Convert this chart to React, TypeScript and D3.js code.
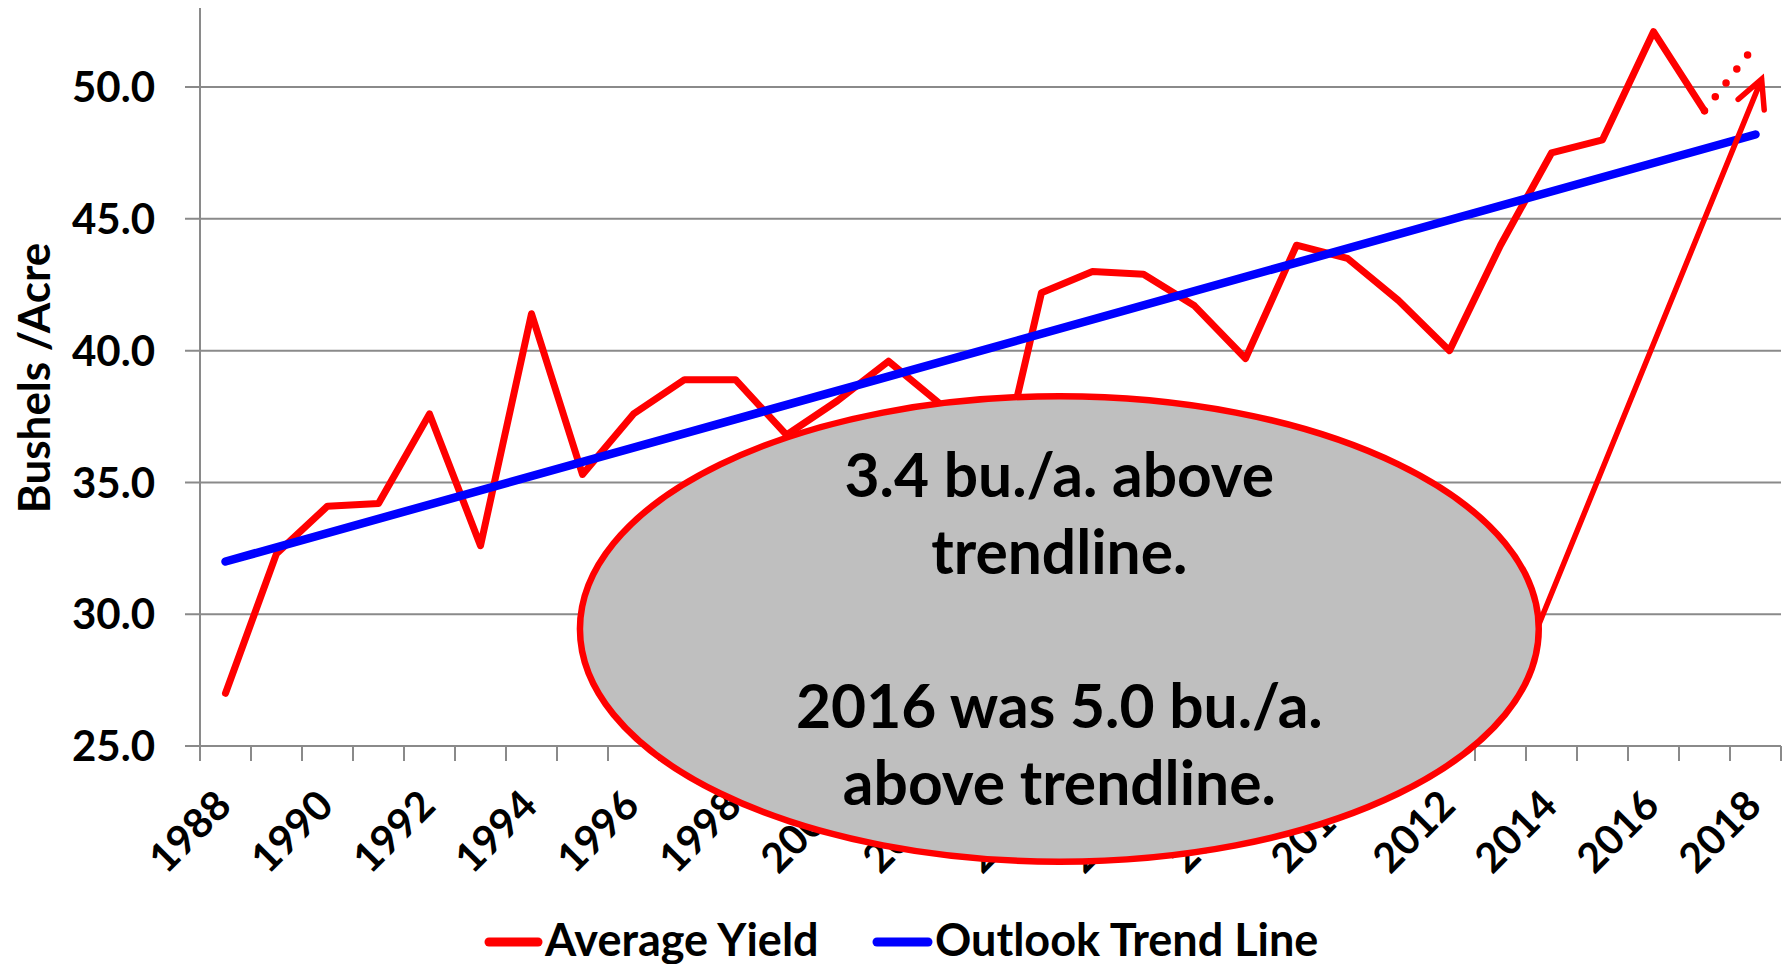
import React, { useEffect, useRef } from 'react';
import * as d3 from 'd3';

// US average soybean yield, bu/acre
const YEARS = [
  1988, 1989, 1990, 1991, 1992, 1993, 1994, 1995, 1996, 1997, 1998, 1999, 2000,
  2001, 2002, 2003, 2004, 2005, 2006, 2007, 2008, 2009, 2010, 2011, 2012, 2013,
  2014, 2015, 2016, 2017, 2018,
];
const YIELD_YEARS = YEARS.slice(0, 30);
const AVG_YIELD = [
  27.0, 32.3, 34.1, 34.2, 37.6, 32.6, 41.4, 35.3, 37.6, 38.9, 38.9, 36.8, 38.1,
  39.6, 38.0, 33.9, 42.2, 43.0, 42.9, 41.7, 39.7, 44.0, 43.5, 41.9, 40.0, 44.0,
  47.5, 48.0, 52.1, 49.1,
];
// dotted continuation toward 2018
const PROJ_YEARS = [2017, 2018];
const PROJ_VALUES = [49.1, 51.6];

const TREND_YEARS = [1988, 2018];
const TREND_VALUES = [32.0, 48.2];

const Y_TICKS = [25, 30, 35, 40, 45, 50];
const X_LABELS = [1988, 1990, 1992, 1994, 1996, 1998, 2000, 2002, 2004, 2006, 2008, 2010, 2012, 2014, 2016, 2018];

const NOTE_LINES = ['3.4 bu./a. above', 'trendline.', '', '2016 was 5.0 bu./a.', 'above trendline.'];
// callout placed in data units: centre year/value, radii in years/bushels
const NOTE_CENTER = [2004.35, 29.44];
const NOTE_RADII = [9.4, 8.83];
const ARROW_FROM = [2013.75, 29.6];
const ARROW_TO = [2018.12, 50.3];

const LEGEND = [
  { label: 'Average Yield', color: '#ff0000' },
  { label: 'Outlook Trend Line', color: '#0000ff' },
];

const FONT = "Lato, Carlito, 'Liberation Sans', sans-serif";

export default function App() {
  const ref = useRef<SVGSVGElement | null>(null);

  useEffect(() => {
    const W = 1787;
    const H = 964;
    const svg = d3.select(ref.current);
    svg.selectAll('*').remove();

    const x = d3.scaleLinear().domain([YEARS[0] - 0.5, YEARS[YEARS.length - 1] + 0.5]).range([200, 1781]);
    const y = d3.scaleLinear().domain([25, 53]).range([746, 8]);
    const grid = '#8a8a8a';

    svg.append('rect').attr('width', W).attr('height', H).attr('fill', '#fff');

    // gridlines
    svg.append('g')
      .selectAll('line')
      .data(Y_TICKS)
      .join('line')
      .attr('x1', x.range()[0] - 15)
      .attr('x2', x.range()[1])
      .attr('y1', (d) => y(d))
      .attr('y2', (d) => y(d))
      .attr('stroke', grid)
      .attr('stroke-width', 2);

    // y axis line
    svg.append('line')
      .attr('x1', x.range()[0]).attr('x2', x.range()[0])
      .attr('y1', y.range()[1]).attr('y2', y.range()[0])
      .attr('stroke', grid).attr('stroke-width', 2);

    // x tick marks on category boundaries
    const bounds = YEARS.map((d) => d - 0.5).concat([YEARS[YEARS.length - 1] + 0.5]);
    svg.append('g')
      .selectAll('line')
      .data(bounds)
      .join('line')
      .attr('x1', (d) => x(d)).attr('x2', (d) => x(d))
      .attr('y1', y(25)).attr('y2', y(25) + 15)
      .attr('stroke', grid).attr('stroke-width', 2);

    // y tick labels
    svg.append('g')
      .selectAll('text')
      .data(Y_TICKS)
      .join('text')
      .attr('x', 155)
      .attr('y', (d) => y(d))
      .attr('dy', '0.36em')
      .attr('text-anchor', 'end')
      .attr('font-family', FONT)
      .attr('font-weight', 700)
      .attr('font-size', 42)
      .text((d) => d.toFixed(1));

    // x tick labels
    svg.append('g')
      .selectAll('text')
      .data(X_LABELS)
      .join('text')
      .attr('transform', (d) => `translate(${x(d) + 8},${y(25) + 62}) rotate(-45)`)
      .attr('text-anchor', 'end')
      .attr('font-family', FONT)
      .attr('font-weight', 700)
      .attr('font-size', 41)
      .text((d) => d);

    // y axis title
    svg.append('text')
      .attr('transform', `translate(50,${378}) rotate(-90)`)
      .attr('text-anchor', 'middle')
      .attr('font-family', FONT)
      .attr('font-weight', 700)
      .attr('font-size', 44)
      .text('Bushels /Acre');

    // average yield
    const yieldLine = d3.line<number>().x((_, i) => x(YIELD_YEARS[i])).y((d) => y(d));
    svg.append('path')
      .attr('d', yieldLine(AVG_YIELD))
      .attr('fill', 'none')
      .attr('stroke', '#ff0000')
      .attr('stroke-width', 7)
      .attr('stroke-linejoin', 'round')
      .attr('stroke-linecap', 'round');

    const projLine = d3.line<number>().x((_, i) => x(PROJ_YEARS[i])).y((d) => y(d));
    svg.append('path')
      .attr('d', projLine(PROJ_VALUES))
      .attr('fill', 'none')
      .attr('stroke', '#ff0000')
      .attr('stroke-width', 7.5)
      .attr('stroke-linecap', 'round')
      .attr('stroke-dasharray', '0 17.6');

    // trend line
    const trendLine = d3.line<number>().x((_, i) => x(TREND_YEARS[i])).y((d) => y(d));
    svg.append('path')
      .attr('d', trendLine(TREND_VALUES))
      .attr('fill', 'none')
      .attr('stroke', '#0000ff')
      .attr('stroke-width', 8.5)
      .attr('stroke-linecap', 'round');

    // callout ellipse
    const cx = x(NOTE_CENTER[0]);
    const cy = y(NOTE_CENTER[1]);
    svg.append('ellipse')
      .attr('cx', cx)
      .attr('cy', cy)
      .attr('rx', x(NOTE_CENTER[0] + NOTE_RADII[0]) - cx)
      .attr('ry', y(NOTE_CENTER[1]) - y(NOTE_CENTER[1] + NOTE_RADII[1]))
      .attr('fill', '#bfbfbf')
      .attr('stroke', '#ff0000')
      .attr('stroke-width', 6.5);

    const note = svg.append('text')
      .attr('text-anchor', 'middle')
      .attr('font-family', FONT)
      .attr('font-weight', 700)
      .attr('font-size', 60.5);
    NOTE_LINES.forEach((line, i) => {
      note.append('tspan')
        .attr('x', cx)
        .attr('y', 496.5 + i * 77)
        .text(line);
    });

    // arrow from callout
    const ax0 = x(ARROW_FROM[0]);
    const ay0 = y(ARROW_FROM[1]);
    const ax1 = x(ARROW_TO[0]);
    const ay1 = y(ARROW_TO[1]);
    const ang = Math.atan2(ay0 - ay1, ax0 - ax1);
    const barb = 31;
    const spread = (27 * Math.PI) / 180;
    const b1 = [ax1 + barb * Math.cos(ang + spread), ay1 + barb * Math.sin(ang + spread)];
    const b2 = [ax1 + barb * Math.cos(ang - spread), ay1 + barb * Math.sin(ang - spread)];
    svg.append('path')
      .attr('d', `M${ax0},${ay0}L${ax1},${ay1}M${b1[0]},${b1[1]}L${ax1},${ay1}L${b2[0]},${b2[1]}`)
      .attr('fill', 'none')
      .attr('stroke', '#ff0000')
      .attr('stroke-width', 5.5)
      .attr('stroke-linecap', 'round')
      .attr('stroke-linejoin', 'miter');

    // legend (cut at the bottom edge, as in the source image)
    const legendPos = [
      { x0: 485, x1: 542, tx: 545 },
      { x0: 873, x1: 932, tx: 935 },
    ];
    LEGEND.forEach((item, i) => {
      const p = legendPos[i];
      svg.append('line')
        .attr('x1', p.x0 + 4).attr('x2', p.x1 - 4)
        .attr('y1', 942).attr('y2', 942)
        .attr('stroke', item.color)
        .attr('stroke-width', 9)
        .attr('stroke-linecap', 'round');
      svg.append('text')
        .attr('x', p.tx)
        .attr('y', 956)
        .attr('font-family', FONT)
        .attr('font-weight', 700)
        .attr('font-size', 45)
        .text(item.label);
    });
  }, []);

  return (
    <div style={{ position: 'absolute', left: 0, top: 0 }}>
      <svg ref={ref} width={1787} height={964} style={{ display: 'block' }} />
    </div>
  );
}
